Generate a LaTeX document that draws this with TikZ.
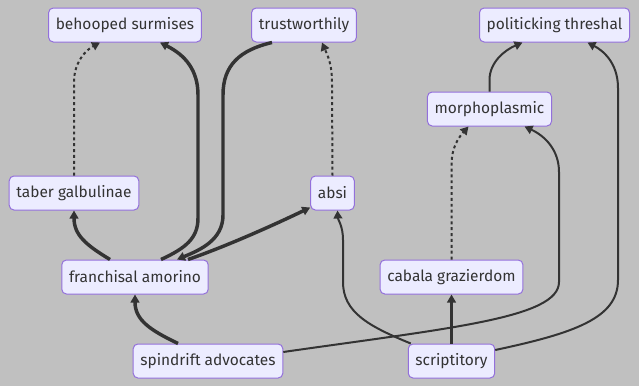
\documentclass[tikz,border=0pt]{standalone}
\usepackage{fontspec}
\setmainfont{Fira Sans}
\usetikzlibrary{arrows.meta,calc}
\definecolor{canvas}{HTML}{C0C0C0}
\definecolor{nodefill}{HTML}{ECECFF}
\definecolor{nodeline}{HTML}{9370DB}
\definecolor{ink}{HTML}{333333}

\begin{document}
\begin{tikzpicture}[
  x=0.75pt, y=-0.75pt,
  font=\fontsize{11.6}{14}\selectfont,
  box/.style={draw=nodeline, fill=nodefill, line width=0.75pt, rounded corners=3.5pt,
    minimum height=25.5pt, inner xsep=5.4pt, text=ink},
  link/.style={draw=ink, line width=1.5pt, -{Triangle[length=6pt,width=6.5pt]}},
  boldlink/.style={link, line width=2.6pt},
  dotlink/.style={link, dash pattern=on 2.2pt off 2.2pt}
]
  \fill[canvas] (0,0) rectangle (639,386);

  \node[box] (bs) at (125,25) {behooped surmises};
  \node[box] (tw) at (304,25) {trustworthily};
  \node[box] (pt) at (554.5,25) {politicking threshal};
  \node[box] (mp) at (489.5,109) {morphoplasmic};
  \node[box] (tg) at (74,193) {taber galbulinae};
  \node[box] (ab) at (332.5,193) {absi};
  \node[box] (fa) at (135,277) {franchisal amorino};
  \node[box] (cg) at (451.5,277) {cabala grazierdom};
  \node[box] (sa) at (208,361) {spindrift advocates};
  \node[box] (sc) at (451.5,361) {scriptitory};

  \draw[dotlink] (tg.north) -- (74,82) .. controls (74,62) and (86,50) .. ($(bs.south)+(-25,0)$);
  \draw[boldlink] ($(fa.north)+(26,0)$) .. controls (186,248) and (198,238) .. (198,218)
    -- (198,95) .. controls (198,70) and (185,55) .. ($(bs.south)+(35,0)$);
  \draw[boldlink] ($(tw.south)+(-32,0)$) .. controls (240,50) and (223,65) .. (223,95)
    -- (223,215) .. controls (223,240) and (200,250) .. ($(fa.north)+(42,0)$);
  \draw[boldlink] ($(fa.north)+(53,0)$) .. controls (230,245) and (280,222) .. ($(ab.south west)+(0,-3)$);
  \draw[boldlink] ($(fa.north)+(-25,0)$) .. controls (86,245) and (74,235) .. (tg.south);
  \draw[boldlink] ($(sa.north)+(-30,0)$) .. controls (150,330) and (135,320) .. (fa.south);
  \draw[dotlink] (ab.north) -- (332,82) .. controls (332,62) and (326,52) .. ($(tw.south)+(18,0)$);
  \draw[link] ($(sa.east)+(0,-9)$) .. controls (450,328) and (559,318) .. (559,282)
    -- (559,172) .. controls (559,150) and (545,136) .. ($(mp.south)+(35,0)$);
  \draw[link] ($(sc.north west)+(3,0)$) .. controls (368,326) and (343,312) .. (343,282)
    -- (343,240) .. controls (343,226) and (338,220) .. ($(ab.south)+(5,0)$);
  \draw[boldlink] (sc.north) -- (cg.south);
  \draw[dotlink] (cg.north) -- (451.5,165) .. controls (451.5,146) and (460,136) .. ($(mp.south)+(-21,0)$);
  \draw[link] ($(sc.east)+(0,-11)$) .. controls (575,333) and (618,318) .. (618,280)
    -- (618,88) .. controls (618,62) and (602,50) .. ($(pt.south)+(33,0)$);
  \draw[link] (mp.north) -- (489.5,80) .. controls (489.5,62) and (505,50) .. ($(pt.south)+(-32,0)$);
\end{tikzpicture}
\end{document}
